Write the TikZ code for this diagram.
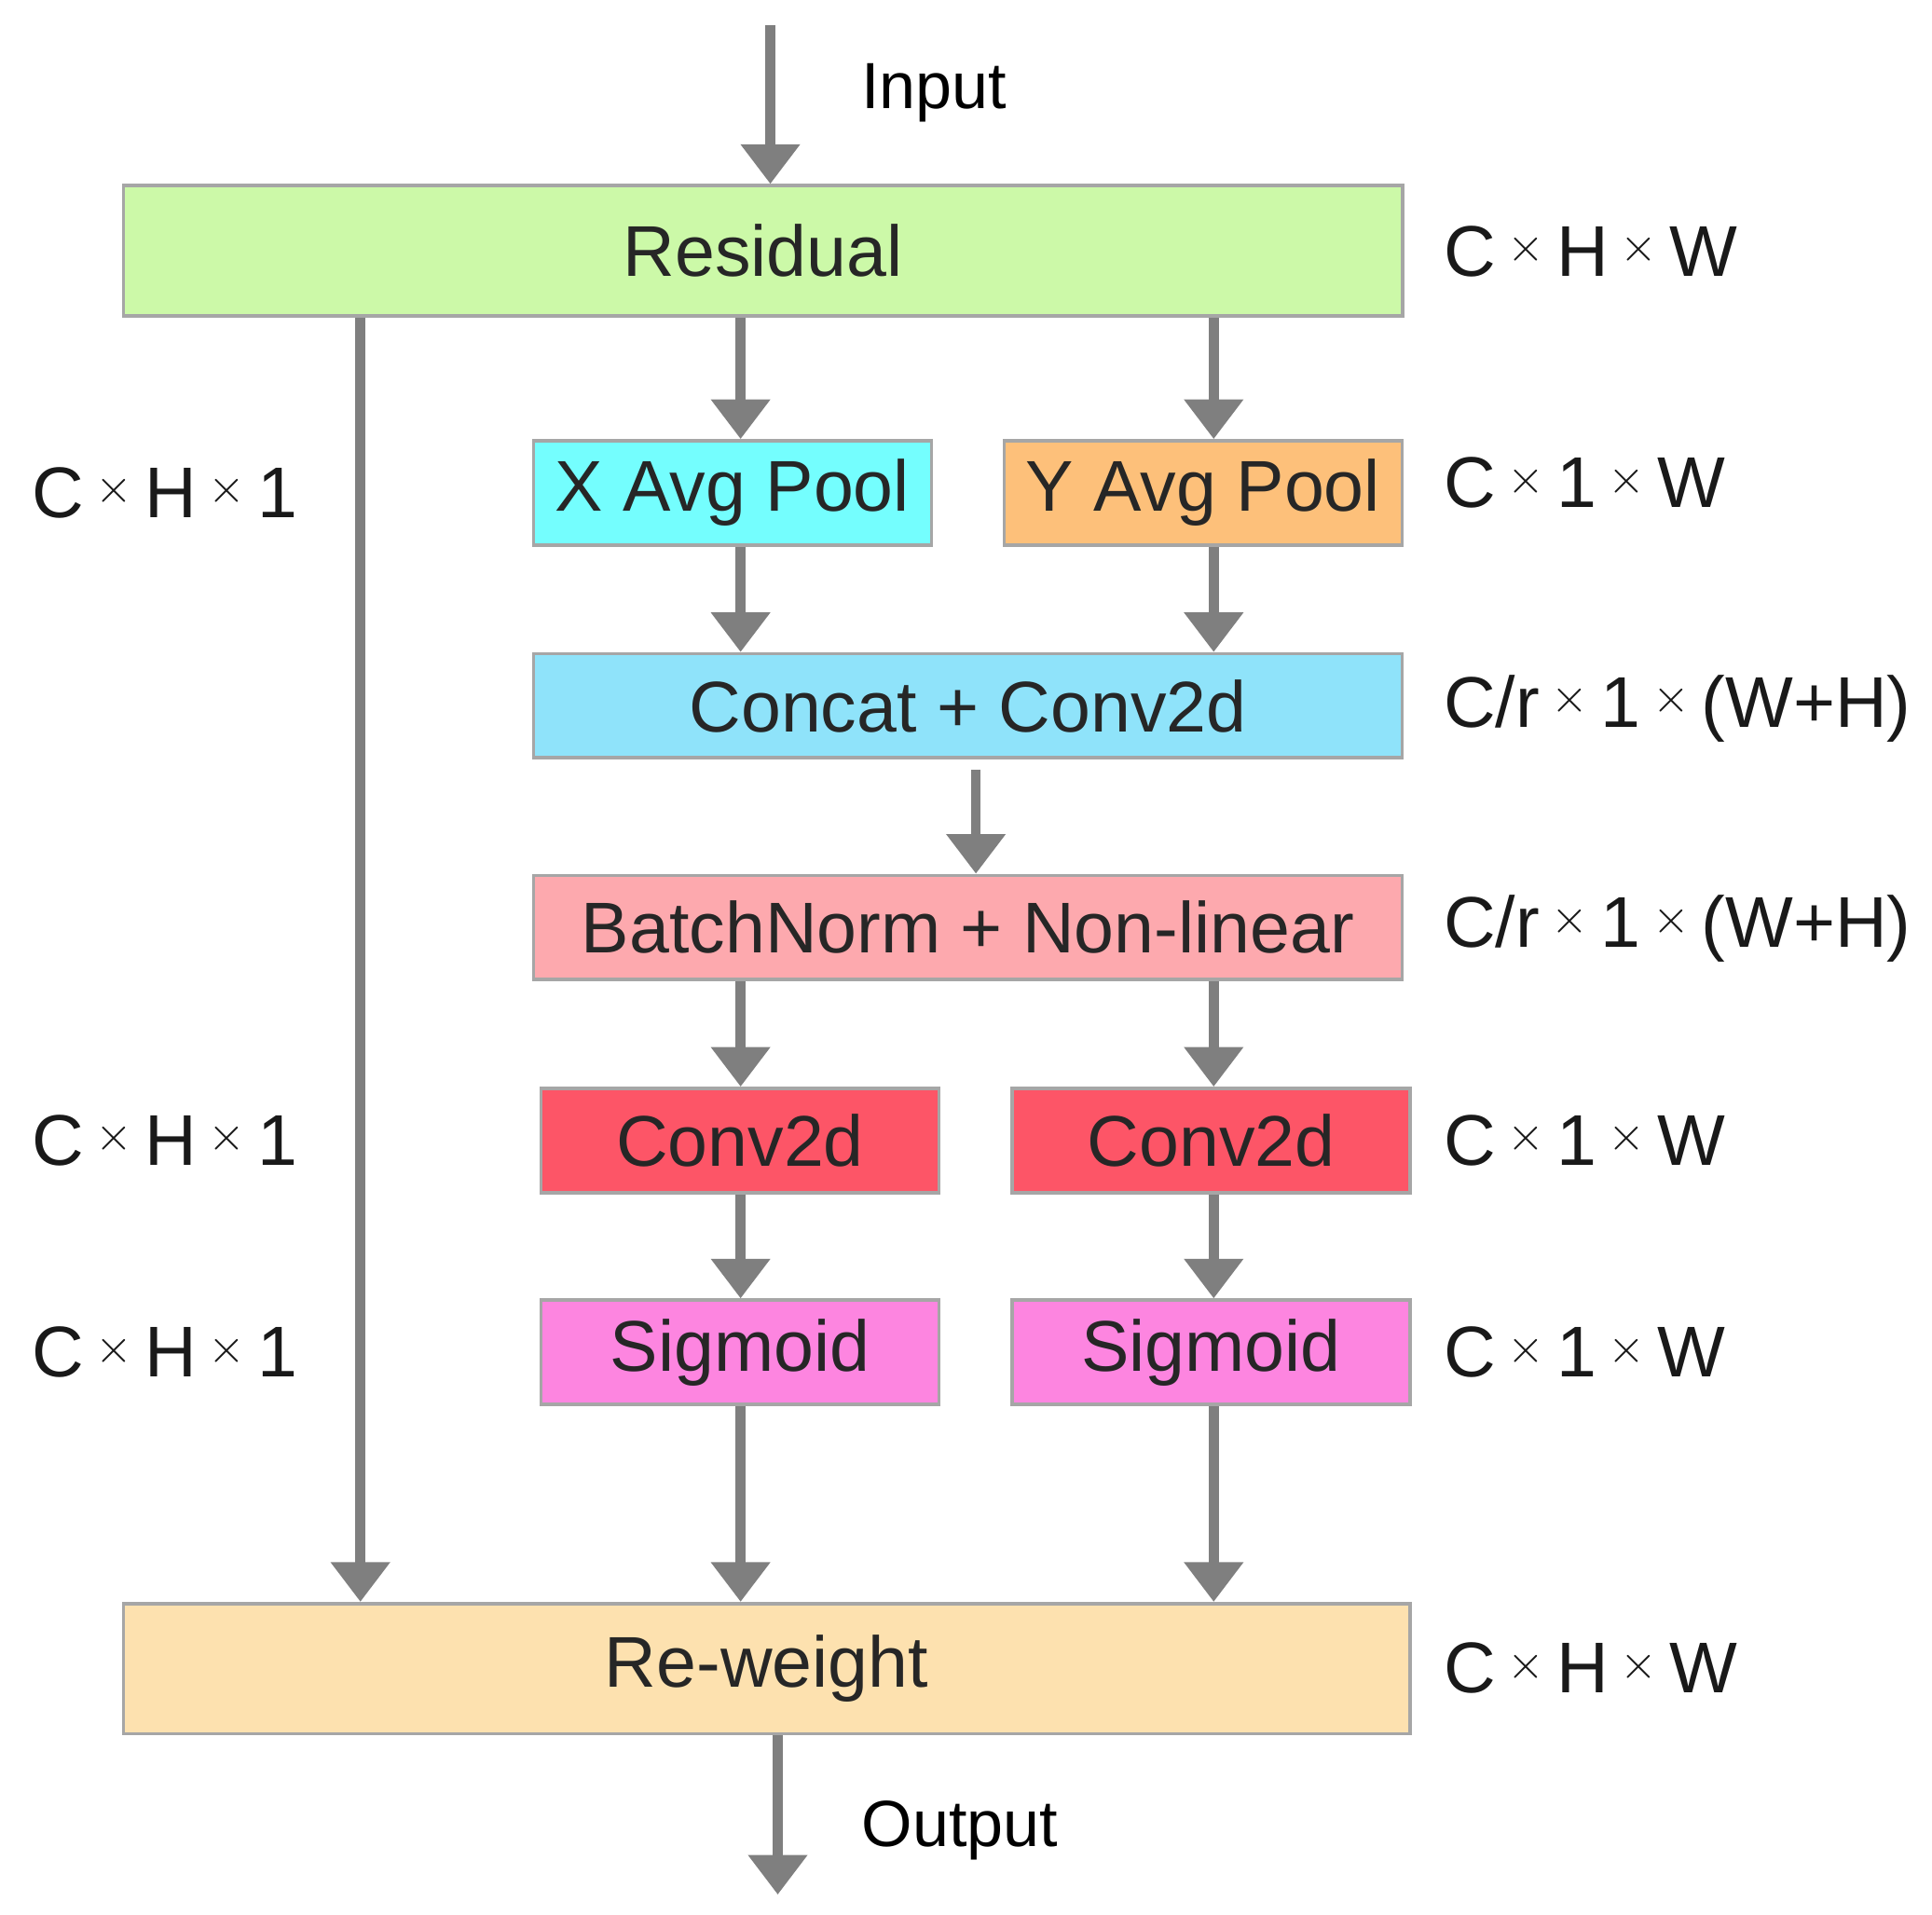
\documentclass[tikz,border=0pt]{standalone}
\usepackage{fontspec}
\setmainfont{Liberation Sans}
\usetikzlibrary{arrows.meta}
\definecolor{ar}{HTML}{7F7F7F}
\definecolor{cres}{HTML}{CCF9A8}
\definecolor{cxa}{HTML}{74FEFE}
\definecolor{cya}{HTML}{FDC07A}
\definecolor{ccc}{HTML}{8FE3FA}
\definecolor{cbn}{HTML}{FDA9AE}
\definecolor{ccv}{HTML}{FD5567}
\definecolor{csg}{HTML}{FD85E0}
\definecolor{crw}{HTML}{FDE1AF}
\begin{document}
\begin{tikzpicture}[x=0.01cm,y=-0.01cm,
 box/.style={draw=black!35,line width=0.8pt,inner sep=0pt,font=\fontsize{16.5}{20}\selectfont,text=black!85},
 lab/.style={anchor=west,inner sep=0pt,font=\fontsize{16.5}{20}\selectfont,text=black!90},
 io/.style={anchor=west,inner sep=0pt,font=\fontsize{15}{18}\selectfont},
 arr/.style={draw=ar,line width=0.08cm,-{Triangle[width=0.46cm,length=0.32cm]}}]
\useasboundingbox (0,0) rectangle (1560,1546);
\newcommand{\tx}{\,\raisebox{0.2em}{\fontsize{11}{11}\selectfont$\times$}\,}
\node[box,fill=cres,minimum width=10.32cm,minimum height=1.05cm] (res) at (616,202.5) {Residual};
\node[box,fill=cxa,minimum width=3.21cm,minimum height=0.84cm] (xa) at (591.5,398) {X Avg Pool};
\node[box,fill=cya,minimum width=3.21cm,minimum height=0.84cm] (ya) at (971.5,398) {Y Avg Pool};
\node[box,fill=ccc,minimum width=7.01cm,minimum height=0.84cm] (cc) at (781.5,570) {Concat + Conv2d};
\node[box,fill=cbn,minimum width=7.01cm,minimum height=0.84cm] (bn) at (781.5,749) {BatchNorm + Non-linear};
\node[box,fill=ccv,minimum width=3.21cm,minimum height=0.84cm] (cl) at (597.5,921) {Conv2d};
\node[box,fill=ccv,minimum width=3.21cm,minimum height=0.84cm] (cr) at (978,921) {Conv2d};
\node[box,fill=csg,minimum width=3.21cm,minimum height=0.84cm] (sl) at (597.5,1092) {Sigmoid};
\node[box,fill=csg,minimum width=3.21cm,minimum height=0.84cm] (sr) at (978,1092) {Sigmoid};
\node[box,fill=crw,minimum width=10.38cm,minimum height=1.05cm] (rw) at (619,1347.5) {Re-weight};
\coordinate (in) at (622,20);
\coordinate (out) at (628,1530);
\node[io] at (695,75) {Input};
\node[io] at (695,1478) {Output};
\node[lab] at (1165,203) {C\tx H\tx W};
\node[lab] at (1165,390) {C\tx 1\tx W};
\node[lab] at (1165,572) {C/r\tx 1\tx (W+H)};
\node[lab] at (1165,750) {C/r\tx 1\tx (W+H)};
\node[lab] at (1165,921) {C\tx 1\tx W};
\node[lab] at (1165,1092) {C\tx 1\tx W};
\node[lab] at (1165,1347) {C\tx H\tx W};
\node[lab] at (25,398) {C\tx H\tx 1};
\node[lab] at (25,921) {C\tx H\tx 1};
\node[lab] at (25,1092) {C\tx H\tx 1};
\draw[arr] (in) -- (in |- res.north);
\draw[arr] (rw.south -| out) -- (out);
\draw[arr] (res.south -| 291,0) -- (rw.north -| 291,0);
\draw[arr] (res.south -| 598,0) -- (xa.north -| 598,0);
\draw[arr] (res.south -| 980,0) -- (ya.north -| 980,0);
\draw[arr] (xa.south -| 598,0) -- (cc.north -| 598,0);
\draw[arr] (ya.south -| 980,0) -- (cc.north -| 980,0);
\draw[arr] ([yshift=-0.08cm]cc.south -| 788,0) -- (bn.north -| 788,0);
\draw[arr] (bn.south -| 598,0) -- (cl.north -| 598,0);
\draw[arr] (bn.south -| 980,0) -- (cr.north -| 980,0);
\draw[arr] (cl.south -| 598,0) -- (sl.north -| 598,0);
\draw[arr] (cr.south -| 980,0) -- (sr.north -| 980,0);
\draw[arr] (sl.south -| 598,0) -- (rw.north -| 598,0);
\draw[arr] (sr.south -| 980,0) -- (rw.north -| 980,0);
\end{tikzpicture}
\end{document}
